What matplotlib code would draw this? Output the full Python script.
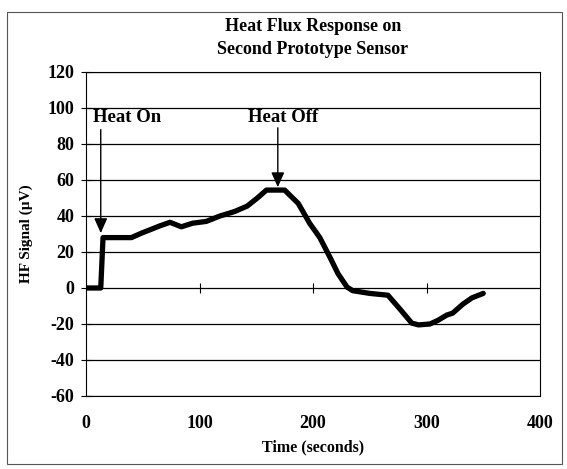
import numpy as np
import matplotlib
matplotlib.use("Agg")
import matplotlib.pyplot as plt
from matplotlib.patches import Rectangle

# ---------------------------------------------------------
# Data
# ---------------------------------------------------------

time_s = [0, 13, 15, 40, 49, 65, 74, 84, 94, 106, 118, 131, 142, 151, 159,
          175, 187, 197, 206, 215, 222, 230, 235, 250, 266, 277, 287, 293,
          303, 310, 318, 323, 332, 340, 350]
hf_signal = [0, 0, 28, 28, 30.5, 34.5, 36.5, 34, 36, 37, 40, 42.5, 45.5, 50, 54.4,
             54.4, 47, 36, 28, 17, 8, 0.5, -1.5, -3, -4, -12, -19.5, -20.5,
             -20, -18, -15, -14, -9, -5.5, -3]

heat_on_t = 13
heat_off_t = 169

x_ticks = [0, 100, 200, 300, 400]
y_ticks = [-60, -40, -20, 0, 20, 40, 60, 80, 100, 120]

# ---------------------------------------------------------
# Figure
# ---------------------------------------------------------

plt.rcParams["font.family"] = ["Liberation Serif", "DejaVu Serif"]
plt.rcParams["font.weight"] = "bold"
plt.rcParams["axes.unicode_minus"] = False

fig = plt.figure(figsize=(5.67, 4.69), dpi=100)
ax = fig.add_axes([86 / 567, 1 - 396 / 469, (540 - 86) / 567, (396 - 72) / 469])

# outer chart frame
fig.patches.append(Rectangle((7 / 567, 5 / 469), 555 / 567, 452 / 469,
                             transform=fig.transFigure, fill=False,
                             edgecolor="#555555", linewidth=0.8))

ax.set_xlim(0, 400)
ax.set_ylim(-60, 120)

for yv in y_ticks:
    ax.axhline(yv, color="black", linewidth=0.9, zorder=1)

ax.plot(time_s, hf_signal, color="black", linewidth=3.8,
        solid_joinstyle="round", solid_capstyle="round", zorder=3)

# x-axis tick marks sit on the zero line
ax.plot(x_ticks[1:-1], [0] * 3, linestyle="none", marker="|",
        markersize=7, color="black", markeredgewidth=0.8, zorder=2)

ax.set_xticks(x_ticks)
ax.set_yticks(y_ticks)
ax.tick_params(axis="x", length=0, pad=14, labelsize=13)
ax.tick_params(axis="y", direction="inout", length=7, width=0.8,
               pad=5, labelsize=13)
for lab in ax.get_xticklabels() + ax.get_yticklabels():
    lab.set_fontweight("bold")

for sp in ax.spines.values():
    sp.set_linewidth(0.8)

ax.set_xlabel("Time (seconds)", fontsize=11.5, fontweight="bold", labelpad=5)
ax.set_ylabel("HF Signal (\u00b5V)", fontsize=11, fontweight="bold", labelpad=10)

# two-line title centred over the plot area
fig.text((86 + 540) / 2 / 567, 1 - 38 / 469,
         "Heat Flux Response on\nSecond Prototype Sensor",
         ha="center", va="center", fontsize=13, fontweight="bold",
         linespacing=1.5)

# annotations
arrow = dict(arrowstyle="-|>,head_width=0.4,head_length=0.9",
             color="black", linewidth=1.0, shrinkA=0, shrinkB=0)
ax.annotate("", xy=(heat_on_t, 30.5), xytext=(heat_on_t, 88), arrowprops=arrow)
ax.annotate("", xy=(heat_off_t, 56), xytext=(heat_off_t, 89), arrowprops=arrow)
ax.text(36, 94.5, "Heat On", ha="center", va="center",
        fontsize=13.5, fontweight="bold")
ax.text(174, 95, "Heat Off", ha="center", va="center",
        fontsize=13.5, fontweight="bold")

fig.savefig("out.png", dpi=100)
